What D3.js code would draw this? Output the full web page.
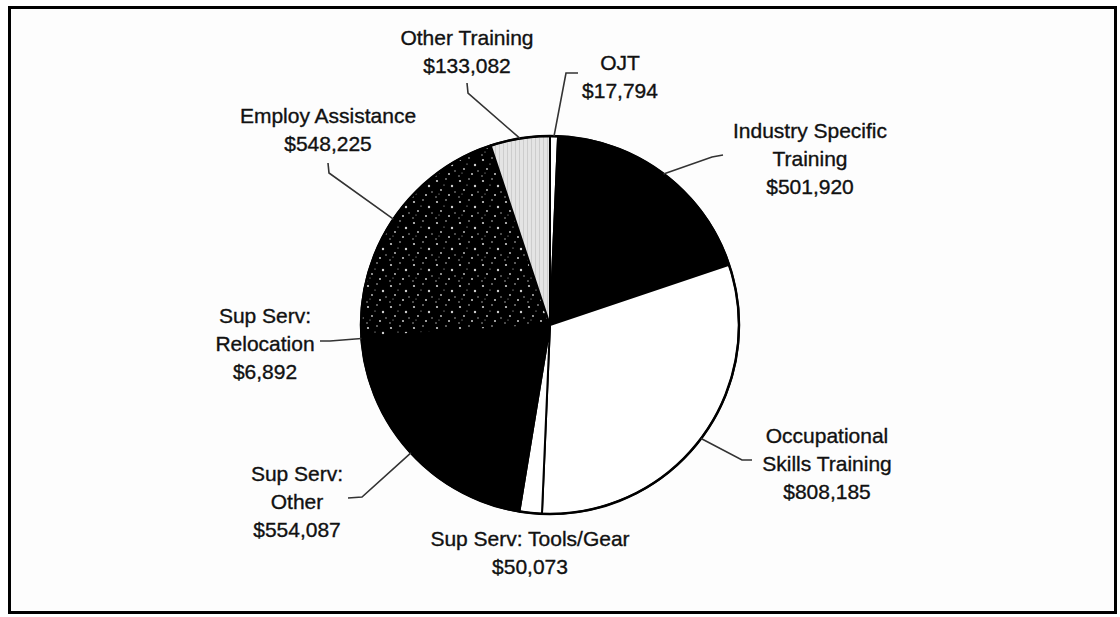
<!DOCTYPE html>
<html>
<head>
<meta charset="utf-8">
<script src="https://cdn.jsdelivr.net/npm/d3@7"></script>
<style>
  html, body { margin: 0; padding: 0; background: #fff; }
  text { font-family: "Liberation Sans", Arial, sans-serif; fill: #111; stroke: #111; stroke-width: 0.35px; }
</style>
</head>
<body>
<div id="chart"></div>
<script>
// slices, clockwise from 12 o'clock
const categories = ['OJT', 'Industry Specific Training', 'Occupational Skills Training',
  'Sup Serv: Tools/Gear', 'Sup Serv: Other', 'Sup Serv: Relocation',
  'Employ Assistance', 'Other Training'];
const values = [17794, 501920, 808185, 50073, 554087, 6892, 548225, 133082];
const fills = ['#fff', '#000', '#fff', '#fff', '#000', '#000', 'url(#speckle)', 'url(#lightgray)'];

// label placement (layout only): text lines, centre x, first line y, leader elbow + end
const labelLayout = [
  { lines: ['OJT'], x: 620, y: 62, leader: [[566, 73], [578, 73]] },
  { lines: ['Industry Specific', 'Training'], x: 810, y: 130, leader: [[712, 157], [723, 155]] },
  { lines: ['Occupational', 'Skills Training'], x: 827, y: 435, leader: [[742, 460], [752, 460]] },
  { lines: ['Sup Serv: Tools/Gear'], x: 530, y: 538, leader: null },
  { lines: ['Sup Serv:', 'Other'], x: 297, y: 473, leader: [[362, 497], [348, 498]] },
  { lines: ['Sup Serv:', 'Relocation'], x: 265, y: 315, leader: [[330, 341], [320, 341]] },
  { lines: ['Employ Assistance'], x: 328, y: 115, leader: [[329, 173], [328, 163]] },
  { lines: ['Other Training'], x: 467, y: 37, leader: [[468, 93], [467, 83]] }
];

const width = 1120;
const height = 617;
const cx = 550, cy = 325, radius = 189;
const lineGap = 28;
const fontSize = 21;

const data = categories.map((c, i) => ({ name: c, value: values[i], fill: fills[i], layout: labelLayout[i] }));

const svg = d3.select('#chart').append('svg')
  .attr('width', width)
  .attr('height', height);

const defs = svg.append('defs');

// black with sparse grey-white speckles
const speckle = defs.append('pattern')
  .attr('id', 'speckle')
  .attr('patternUnits', 'userSpaceOnUse')
  .attr('width', 23).attr('height', 21);
speckle.append('rect').attr('width', 23).attr('height', 21).attr('fill', '#000');
[[2, 3, 1.1], [11, 1, 0.8], [17, 8, 1.2], [6, 12, 0.9], [14, 17, 1], [1, 19, 0.7], [9, 7, 0.6], [20, 14, 0.7], [4, 16, 0.5]]
  .forEach(d => speckle.append('circle').attr('cx', d[0]).attr('cy', d[1]).attr('r', d[2]).attr('fill', '#cfcfcf'));

// light grey with faint vertical hatching
const grey = defs.append('pattern')
  .attr('id', 'lightgray')
  .attr('patternUnits', 'userSpaceOnUse')
  .attr('width', 4).attr('height', 4);
grey.append('rect').attr('width', 4).attr('height', 4).attr('fill', '#e4e4e4');
grey.append('rect').attr('x', 1).attr('width', 1).attr('height', 4).attr('fill', '#cdcdcd');

// page frame
svg.append('rect')
  .attr('x', 9.5).attr('y', 7.5)
  .attr('width', 1106).attr('height', 605)
  .attr('fill', '#fdfdfd')
  .attr('stroke', '#000')
  .attr('stroke-width', 3);

const pie = d3.pie()
  .sort(null)
  .value(d => d.value)
  .startAngle(0)
  .endAngle(2 * Math.PI);

const arc = d3.arc()
  .innerRadius(0)
  .outerRadius(radius);

const arcs = pie(data);

const g = svg.append('g')
  .attr('transform', `translate(${cx},${cy})`);

g.selectAll('path.slice')
  .data(arcs)
  .enter()
  .append('path')
    .attr('class', 'slice')
    .attr('d', arc)
    .attr('fill', d => d.data.fill)
    .attr('stroke', '#000')
    .attr('stroke-width', 2)
    .attr('stroke-linejoin', 'round');

// outer rim
g.append('circle')
  .attr('r', radius)
  .attr('fill', 'none')
  .attr('stroke', '#000')
  .attr('stroke-width', 2.5);

// leader lines start on the rim at each slice's mid angle
const leaderLine = d3.line();
svg.append('g')
  .selectAll('path')
  .data(arcs.filter(d => d.data.layout.leader))
  .enter()
  .append('path')
    .attr('d', d => {
      const a = (d.startAngle + d.endAngle) / 2;
      const start = [cx + radius * Math.sin(a), cy - radius * Math.cos(a)];
      return leaderLine([start].concat(d.data.layout.leader));
    })
    .attr('fill', 'none')
    .attr('stroke', '#333')
    .attr('stroke-width', 1.6);

// labels: name lines + dollar value
const fmt = d3.format('$,');
const labels = svg.append('g')
  .selectAll('text')
  .data(arcs)
  .enter()
  .append('text')
    .attr('text-anchor', 'middle')
    .attr('font-size', fontSize)
    .attr('x', d => d.data.layout.x)
    .attr('y', d => d.data.layout.y + 7.5);

labels.selectAll('tspan')
  .data(d => d.data.layout.lines.concat([fmt(d.data.value)]).map(t => ({ t, x: d.data.layout.x })))
  .enter()
  .append('tspan')
    .attr('x', d => d.x)
    .attr('dy', (d, i) => i === 0 ? 0 : lineGap)
    .text(d => d.t);
</script>
</body>
</html>
